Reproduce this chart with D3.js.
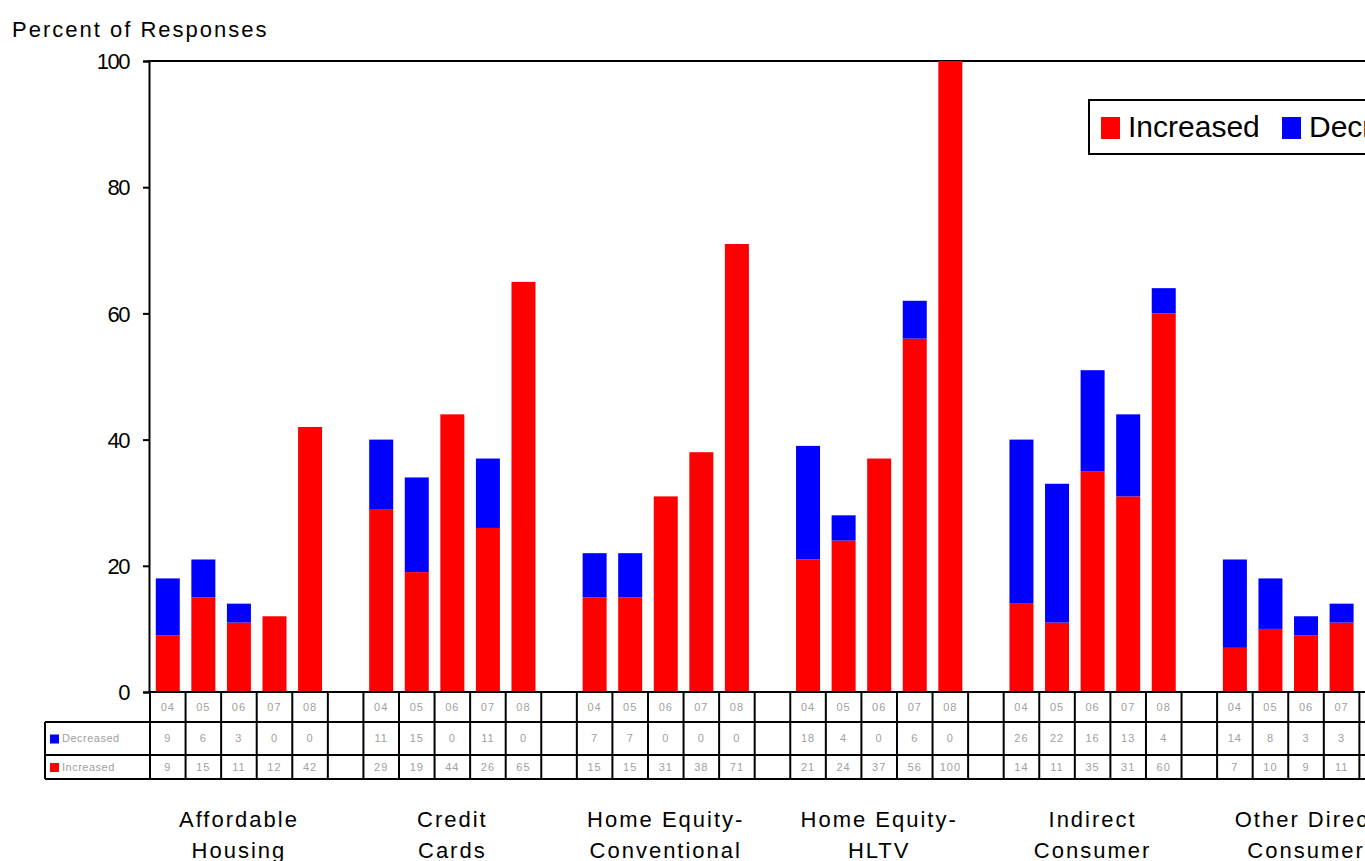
<!DOCTYPE html>
<html><head><meta charset="utf-8">
<script src="https://cdn.jsdelivr.net/npm/d3@7"></script>
<style>html,body{margin:0;padding:0;overflow:hidden;background:#fff}</style>
</head><body><svg id="c" width="1500" height="861"></svg>
<script>
const categories = [["Affordable","Housing"],["Credit","Cards"],["Home Equity-","Conventional"],["Home Equity-","HLTV"],["Indirect","Consumer"],["Other Direct","Consumer"]];
const years = ["04","05","06","07","08"];
const increased = [[9,15,11,12,42],[29,19,44,26,65],[15,15,31,38,71],[21,24,37,56,100],[14,11,35,31,60],[7,10,9,11,null]];
const decreased = [[9,6,3,0,0],[11,15,0,11,0],[7,7,0,0,0],[18,4,0,6,0],[26,22,16,13,4],[14,8,3,3,null]];
const yTicks = [0,20,40,60,80,100];
const seriesNames = ["Increased","Decreased"];
const colors = {Increased:"#ff0000", Decreased:"#0000ff"};

(function(){
const svg = d3.select("#c");
const font = "'Liberation Sans', Arial, sans-serif";
const plotLeft = 149, plotTop = 61, plotBottom = 692;
const perGroup = years.length + 1;
const nCols = categories.length * perGroup;
const colW = 35.57;
const x = d3.scaleLinear().domain([0, nCols]).range([plotLeft+1, plotLeft+1+nCols*colW]);
const y = d3.scaleLinear().domain([0,100]).range([plotBottom, plotTop]);
const barW = 24;

svg.append("text").attr("x",12).attr("y",37).attr("font-family",font).attr("font-size",22)
  .attr("letter-spacing","2px").attr("fill","#000").text("Percent of Responses");

svg.append("line").attr("x1",plotLeft-1).attr("x2",1500).attr("y1",plotTop).attr("y2",plotTop).attr("stroke","#000").attr("stroke-width",2);

const yAxis = d3.axisLeft(y).tickValues(yTicks).tickSize(6).tickPadding(14).tickFormat(d3.format("d"));
const ga = svg.append("g").attr("transform",`translate(${plotLeft},0)`).call(yAxis);
ga.select(".domain").attr("stroke","#000").attr("stroke-width",2);
ga.selectAll(".tick line").attr("stroke","#000").attr("stroke-width",2);
ga.selectAll(".tick text").attr("font-family",font).attr("font-size",22).attr("letter-spacing","-1.5px")
  .attr("fill","#000").attr("dy","0.35em");

const bars = [];
categories.forEach((c,g)=>{
  years.forEach((yr,j)=>{
    const inc = increased[g][j], dec = decreased[g][j];
    if (inc == null) return;
    const col = g*perGroup + j;
    bars.push({col, s:"Increased", y0:0, y1:inc});
    bars.push({col, s:"Decreased", y0:inc, y1:inc+dec});
  });
});
svg.append("g").selectAll("rect").data(bars.filter(b=>b.y1>b.y0)).join("rect")
  .attr("x",d=>x(d.col)+(colW-barW)/2).attr("width",barW)
  .attr("y",d=>y(d.y1)).attr("height",d=>y(d.y0)-y(d.y1))
  .attr("fill",d=>colors[d.s]);

const rowY = [692, 722, 755, 779];
const tbl = svg.append("g");
const line = (x1,y1,x2,y2)=>tbl.append("line").attr("x1",x1).attr("y1",y1).attr("x2",x2).attr("y2",y2).attr("stroke","#000").attr("stroke-width",2);
line(plotLeft-1, rowY[0], 1500, rowY[0]);
line(45, rowY[1], 1500, rowY[1]);
line(45, rowY[2], 1500, rowY[2]);
line(45, rowY[3], 1500, rowY[3]);
line(45, rowY[1], 45, rowY[3]);
for (let k=0;k<=nCols;k++) line(x(k), rowY[0], x(k), rowY[3]);

const cells = [];
categories.forEach((c,g)=>{
  years.forEach((yr,j)=>{
    const col = g*perGroup + j;
    cells.push({col, row:0, t:yr});
    if (decreased[g][j] != null) cells.push({col, row:1, t:decreased[g][j]});
    if (increased[g][j] != null) cells.push({col, row:2, t:increased[g][j]});
  });
});
tbl.selectAll("text.cell").data(cells).join("text").attr("class","cell")
  .attr("x",d=>x(d.col)+colW/2).attr("y",d=>(rowY[d.row]+rowY[d.row+1])/2)
  .attr("dy","0.35em").attr("text-anchor","middle").attr("font-family",font).attr("font-size",11)
  .attr("letter-spacing","1px").attr("fill","#a0a0a0").text(d=>d.t);

[["Decreased",1],["Increased",2]].forEach(([s,r])=>{
  const cy = (rowY[r]+rowY[r+1])/2;
  tbl.append("rect").attr("x",50).attr("y",cy-4).attr("width",9).attr("height",9).attr("fill",colors[s]);
  tbl.append("text").attr("x",62).attr("y",cy).attr("dy","0.35em").attr("font-family",font).attr("font-size",11)
    .attr("letter-spacing","0.5px").attr("fill","#a0a0a0").text(s);
});

const cat = svg.append("g").selectAll("text").data(categories).join("text")
  .attr("x",(d,g)=>x(g*perGroup + years.length/2)).attr("y",827)
  .attr("text-anchor","middle").attr("font-family",font).attr("font-size",22).attr("letter-spacing","2px").attr("fill","#000");
cat.selectAll("tspan").data(d=>d).join("tspan")
  .attr("x",function(){return this.parentNode.getAttribute("x");}).attr("dy",(d,i)=>i?31:0).text(d=>d);

const lg = svg.append("g");
lg.append("rect").attr("x",1089).attr("y",100).attr("width",400).attr("height",54).attr("fill","#fff").attr("stroke","#000").attr("stroke-width",2);
const lx = [1101, 1282];
seriesNames.forEach((s,i)=>{
  lg.append("rect").attr("x",lx[i]).attr("y",117).attr("width",19).attr("height",22).attr("fill",colors[s]);
  lg.append("text").attr("x",lx[i]+27).attr("y",137).attr("font-family",font).attr("font-size",30)
    .attr("fill","#000").text(s);
});
})();
</script></body></html>
